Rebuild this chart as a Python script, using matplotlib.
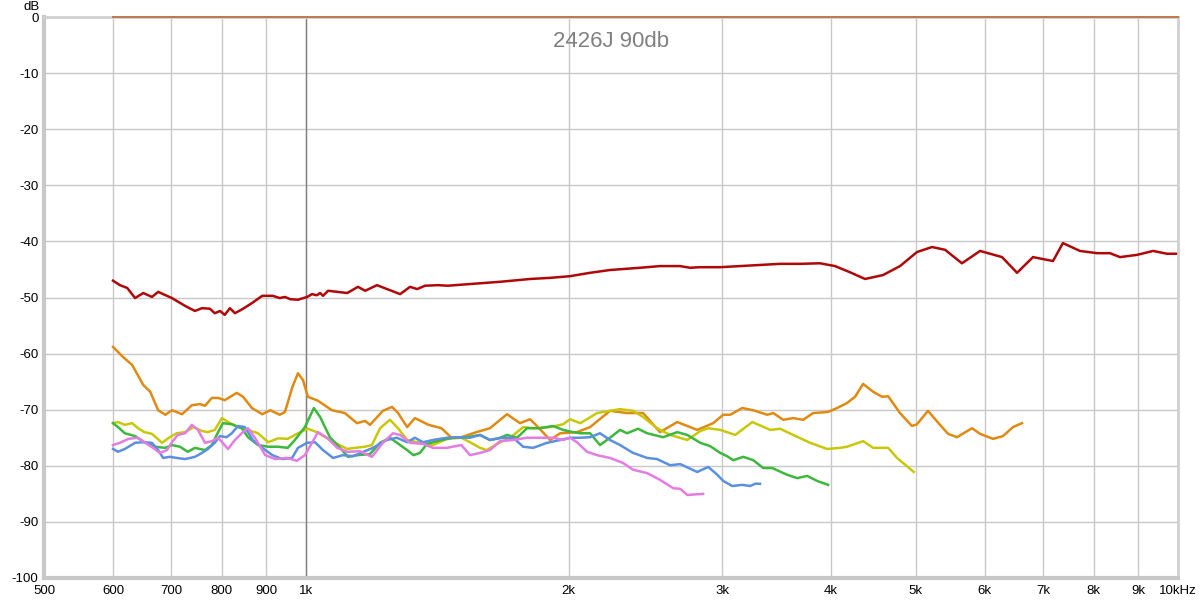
import matplotlib
matplotlib.use("Agg")
import matplotlib.pyplot as plt
from matplotlib.ticker import FixedLocator, NullLocator

title = "2426J 90db"
x_ticks = [500, 600, 700, 800, 900, 1000, 2000, 3000, 4000, 5000, 6000, 7000, 8000, 9000, 10000]
x_tick_labels = ["500", "600", "700", "800", "900", "1k", "2k", "3k", "4k", "5k", "6k", "7k", "8k", "9k", "10kHz"]
y_ticks = [0, -10, -20, -30, -40, -50, -60, -70, -80, -90, -100]

# brown trace clipped at 0 dB
top_f = [600, 10000]
top_db = [0, 0]

red_f = [600, 611, 623, 636, 650, 665, 676, 701, 726, 745, 759, 775, 785, 796, 806, 817, 828, 846, 866, 890,
         915, 932, 945, 958, 978, 1002, 1015, 1028, 1037, 1045, 1059, 1114, 1146, 1168, 1205, 1281, 1315, 1340,
         1368, 1416, 1453, 1541, 1668, 1805, 1903, 2007, 2115, 2230, 2414, 2545, 2683, 2755, 2828, 2982, 3144,
         3315, 3494, 3684, 3884, 4041, 4204, 4375, 4588, 4798, 5018, 5222, 5405, 5651, 5928, 6283, 6536, 6818,
         7188, 7378, 7719, 8074, 8355, 8579, 8974, 9364, 9714, 9975]
red_db = [-47.0, -47.8, -48.3, -50.1, -49.2, -49.9, -49.0, -50.1, -51.5, -52.4, -51.9, -52.0, -52.8, -52.4, -53.1,
          -51.9, -52.8, -52.0, -51.0, -49.7, -49.7, -50.1, -49.9, -50.3, -50.4, -49.9, -49.4, -49.6, -49.2, -49.7,
          -48.8, -49.2, -48.1, -48.8, -47.8, -49.4, -48.1, -48.5, -47.9, -47.8, -47.9, -47.6, -47.2, -46.7, -46.5,
          -46.2, -45.6, -45.1, -44.7, -44.4, -44.4, -44.7, -44.6, -44.6, -44.4, -44.2, -44.0, -44.0, -43.9, -44.4,
          -45.5, -46.7, -46.0, -44.4, -41.9, -41.0, -41.5, -43.9, -41.7, -42.8, -45.6, -42.8, -43.5, -40.3, -41.7,
          -42.1, -42.1, -42.8, -42.4, -41.7, -42.2, -42.2]

orange_f = [600, 616, 631, 650, 662, 676, 689, 701, 720, 739, 755, 765, 779, 792, 806, 832, 846, 866, 890, 909,
            932, 945, 963, 978, 991, 1004, 1031, 1070, 1107, 1143, 1168, 1183, 1224, 1254, 1274, 1305, 1332, 1381,
            1429, 1467, 1506, 1567, 1624, 1699, 1758, 1806, 1844, 1904, 1955, 2044, 2116, 2230, 2333, 2434, 2545,
            2664, 2808, 2929, 3008, 3064, 3163, 3256, 3379, 3433, 3524, 3618, 3715, 3814, 3968, 4064, 4172, 4261,
            4352, 4469, 4577, 4650, 4798, 4952, 5018, 5166, 5333, 5447, 5578, 5803, 5928, 6135, 6299, 6467, 6623]
orange_db = [-58.8, -60.6, -62.0, -65.6, -66.8, -70.1, -70.9, -70.1, -70.8, -69.2, -69.0, -69.3, -67.9, -67.9,
             -68.3, -67.0, -67.7, -69.7, -70.8, -70.1, -70.9, -70.4, -66.1, -63.5, -64.7, -67.7, -68.4, -70.1,
             -70.6, -72.4, -72.0, -72.7, -70.2, -69.5, -70.6, -73.1, -71.5, -72.7, -73.3, -75.0, -74.9, -74.0,
             -73.3, -70.8, -72.4, -71.7, -73.1, -75.4, -74.2, -74.0, -73.1, -70.2, -70.6, -70.6, -74.0, -72.2,
             -73.6, -72.4, -70.9, -70.9, -69.7, -70.1, -70.9, -70.6, -71.8, -71.5, -71.8, -70.6, -70.4, -69.7,
             -68.8, -67.7, -65.4, -66.8, -67.7, -67.6, -70.6, -72.9, -72.6, -70.2, -72.7, -74.3, -74.9, -73.3,
             -74.3, -75.2, -74.7, -73.1, -72.4]

yellow_f = [600, 608, 619, 631, 641, 652, 665, 683, 697, 710, 726, 742, 759, 771, 785, 800, 813, 835, 857, 880,
            904, 928, 952, 978, 1004, 1028, 1056, 1085, 1114, 1137, 1167, 1189, 1215, 1247, 1274, 1305, 1350, 1397,
            1450, 1506, 1541, 1582, 1611, 1668, 1713, 1773, 1820, 1904, 1970, 2007, 2061, 2099, 2155, 2290, 2370,
            2434, 2526, 2614, 2735, 2831, 2891, 2984, 3105, 3248, 3406, 3496, 3618, 3784, 3958, 4096, 4172, 4352,
            4469, 4650, 4761, 4976]
yellow_db = [-72.4, -72.2, -72.7, -72.4, -73.3, -74.0, -74.3, -75.9, -74.9, -74.2, -74.0, -73.1, -73.8, -74.0,
             -73.6, -71.5, -72.2, -73.1, -73.6, -74.2, -75.8, -75.1, -75.2, -74.2, -73.4, -74.0, -75.1, -76.1,
             -77.0, -76.8, -76.6, -76.3, -73.3, -71.8, -73.3, -75.4, -75.9, -76.3, -75.2, -75.0, -75.8, -76.8,
             -77.2, -75.8, -75.0, -73.1, -73.3, -73.1, -72.6, -71.7, -72.4, -71.7, -70.6, -69.9, -70.2, -71.3,
             -73.3, -74.5, -75.4, -73.8, -73.3, -73.6, -74.5, -72.2, -73.6, -73.4, -74.5, -75.9, -77.0, -76.8,
             -76.6, -75.6, -76.8, -76.8, -78.6, -81.1]

green_f = [600, 608, 619, 636, 652, 670, 689, 701, 716, 731, 745, 765, 779, 792, 802, 821, 843, 857, 880, 904,
           928, 952, 970, 996, 1020, 1037, 1064, 1093, 1116, 1146, 1183, 1215, 1247, 1281, 1305, 1327, 1350, 1375,
           1429, 1473, 1528, 1582, 1624, 1668, 1699, 1745, 1791, 1854, 1919, 1970, 2023, 2061, 2116, 2172, 2230,
           2290, 2333, 2402, 2460, 2566, 2664, 2735, 2831, 2906, 2984, 3040, 3089, 3171, 3256, 3343, 3424, 3561,
           3657, 3754, 3855, 3968]
green_db = [-72.4, -73.1, -74.2, -74.7, -75.8, -76.6, -76.8, -76.3, -76.6, -77.5, -76.8, -77.2, -76.3, -74.0,
            -72.4, -72.6, -73.3, -74.9, -76.3, -76.6, -76.6, -76.8, -75.4, -73.1, -69.7, -71.3, -74.9, -76.8,
            -78.4, -78.1, -77.9, -75.9, -75.0, -76.3, -77.2, -78.1, -77.7, -76.1, -75.4, -75.0, -74.9, -74.5,
            -75.4, -75.0, -74.5, -75.0, -73.3, -73.3, -72.9, -73.6, -74.0, -74.2, -74.2, -76.3, -75.0, -73.6,
            -74.2, -73.4, -74.2, -74.9, -74.0, -74.5, -75.9, -76.5, -77.7, -78.3, -79.0, -78.4, -79.0, -80.4,
            -80.4, -81.6, -82.2, -81.8, -82.7, -83.4]

blue_f = [600, 608, 619, 636, 648, 665, 676, 685, 697, 710, 726, 745, 759, 771, 785, 796, 810, 821, 835, 850,
          868, 890, 914, 938, 963, 978, 1002, 1023, 1045, 1073, 1102, 1131, 1167, 1192, 1237, 1270, 1305, 1332,
          1361, 1397, 1450, 1506, 1541, 1582, 1624, 1681, 1727, 1773, 1820, 1889, 1955, 2007, 2061, 2116, 2172,
          2230, 2290, 2370, 2460, 2526, 2614, 2685, 2808, 2891, 2961, 3008, 3080, 3163, 3230, 3273, 3315]
blue_db = [-77.0, -77.5, -77.0, -75.9, -75.8, -75.9, -77.2, -78.6, -78.4, -78.6, -78.8, -78.4, -77.7, -77.0,
           -75.9, -74.7, -74.9, -74.2, -72.9, -73.1, -75.4, -76.8, -78.1, -78.8, -78.6, -76.8, -75.9, -75.8,
           -77.2, -78.6, -78.1, -78.3, -77.4, -76.8, -75.4, -75.0, -75.8, -75.0, -75.8, -75.4, -75.0, -74.9,
           -75.0, -74.5, -75.4, -75.0, -75.0, -76.6, -76.8, -75.9, -75.4, -75.0, -75.0, -74.9, -74.2, -75.4,
           -76.3, -77.7, -78.6, -78.8, -79.9, -79.7, -81.1, -80.2, -81.6, -82.7, -83.6, -83.4, -83.6, -83.2, -83.2]

pink_f = [600, 611, 625, 640, 652, 667, 679, 692, 701, 712, 726, 739, 751, 765, 779, 792, 813, 828, 843, 857,
          873, 897, 921, 950, 975, 996, 1015, 1031, 1056, 1085, 1114, 1152, 1189, 1224, 1257, 1281, 1315, 1361,
          1397, 1450, 1506, 1541, 1582, 1624, 1668, 1727, 1791, 1854, 1919, 1970, 2007, 2044, 2099, 2155, 2230,
          2309, 2370, 2460, 2545, 2636, 2685, 2735, 2852]
pink_db = [-76.3, -75.9, -75.2, -75.0, -75.8, -76.8, -77.7, -77.2, -75.8, -74.5, -74.2, -72.7, -73.6, -75.9,
           -75.6, -75.0, -77.0, -75.4, -74.2, -73.3, -75.0, -78.1, -78.8, -78.6, -79.1, -78.1, -75.9, -74.0,
           -75.0, -76.8, -77.5, -77.4, -78.4, -75.9, -74.2, -74.5, -75.9, -76.1, -76.8, -76.8, -76.3, -78.1,
           -77.7, -77.2, -75.6, -75.4, -75.0, -75.0, -75.0, -75.4, -75.0, -75.8, -77.5, -78.1, -78.6, -79.5,
           -80.7, -81.3, -82.5, -84.0, -84.1, -85.2, -85.0]

plt.rcParams['font.family'] = ['Liberation Sans', 'DejaVu Sans']

fig = plt.figure(figsize=(12, 6), dpi=100)
ax = fig.add_axes([44 / 1200, 22 / 600, 1134 / 1200, 561 / 600])
ax.set_xscale('log')
ax.set_xlim(500, 10000)
ax.set_ylim(-100, 0)

ax.xaxis.set_major_locator(FixedLocator(x_ticks))
ax.xaxis.set_minor_locator(NullLocator())
ax.set_xticklabels(x_tick_labels)
ax.set_yticks(y_ticks)
ax.set_yticklabels([str(v) for v in y_ticks])
ax.tick_params(axis='both', length=0, labelsize=9.5, colors='#000000')
ax.tick_params(axis='x', pad=5)
ax.tick_params(axis='y', pad=4)

ax.grid(True, which='major', color='#c8c8c8', linewidth=1.0)
ax.set_axisbelow(True)
ax.axvline(1000, color='#808080', linewidth=1.0, zorder=1)

for side in ['left', 'bottom']:
    ax.spines[side].set_color('#c8c8c8')
    ax.spines[side].set_linewidth(3)
for side in ['top', 'right']:
    ax.spines[side].set_color('#d0d0d0')
    ax.spines[side].set_linewidth(2)

lw = 1.8
ax.plot(top_f, top_db, color='#c07850', linewidth=1.4, clip_on=False, zorder=5)
ax.plot(red_f, red_db, color='#b00808', linewidth=lw)
ax.plot(orange_f, orange_db, color='#e08a12', linewidth=lw)
ax.plot(yellow_f, yellow_db, color='#c8c808', linewidth=lw)
ax.plot(green_f, green_db, color='#3cb83c', linewidth=lw)
ax.plot(blue_f, blue_db, color='#5b8fe0', linewidth=lw)
ax.plot(pink_f, pink_db, color='#e47ce4', linewidth=lw)

ax.text(0.5, 0.975, title, transform=ax.transAxes, ha='center', va='top',
        fontsize=16, color='#808080')
ax.annotate('dB', xy=(0, 1), xycoords='axes fraction', xytext=(-9, 7),
            textcoords='offset points', ha='center', va='center', fontsize=9.5)

fig.savefig('out.png', dpi=100, facecolor='white')
